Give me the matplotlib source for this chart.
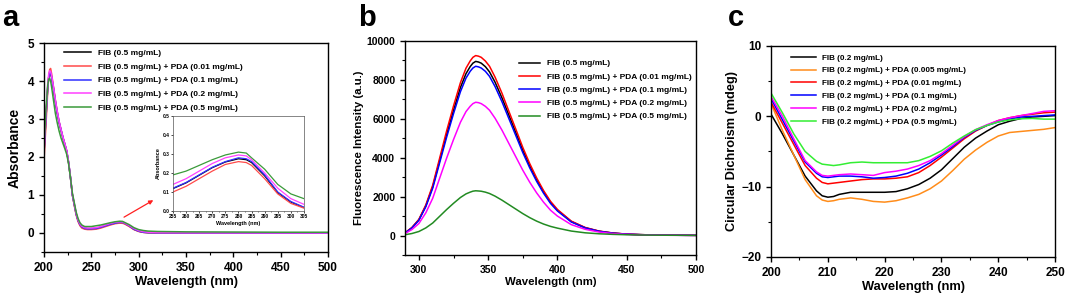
import matplotlib
matplotlib.use("Agg")
import matplotlib.pyplot as plt
from matplotlib.ticker import AutoMinorLocator

plt.rcParams['font.family'] = ['Liberation Sans', 'DejaVu Sans']
plt.rcParams['font.weight'] = 'bold'

# ---- panel a: UV-vis absorbance ----
wl_a = [200, 202, 204, 205, 206, 207, 208, 210, 212, 214, 216, 218, 220, 222, 224, 226, 228, 230,
        232, 234, 236, 238, 240, 243, 246, 250, 255, 260, 265, 270, 275, 280, 283, 285, 290, 295,
        300, 305, 310, 320, 350, 400, 450, 500]
abs_fib = [2.1, 3.0, 3.85, 4.1, 4.22, 4.2, 4.1, 3.8, 3.45, 3.15, 2.9, 2.7, 2.5, 2.33, 2.15, 1.85, 1.45, 1.0,
           0.75, 0.5, 0.33, 0.22, 0.16, 0.12, 0.11, 0.11, 0.118, 0.148, 0.188, 0.228, 0.258, 0.275, 0.27, 0.255, 0.185, 0.097,
           0.047, 0.018, 0.01, 0.005, 0.003, 0.002, 0.002, 0.001]
abs_001 = [1.9, 2.8, 3.75, 4.1, 4.3, 4.33, 4.2, 3.85, 3.5, 3.2, 2.93, 2.72, 2.52, 2.34, 2.15, 1.85, 1.45, 1.0,
           0.72, 0.47, 0.3, 0.19, 0.13, 0.1, 0.09, 0.09, 0.10, 0.13, 0.17, 0.21, 0.245, 0.26, 0.255, 0.24, 0.17, 0.09,
           0.04, 0.015, 0.008, 0.004, 0.003, 0.002, 0.002, 0.001]
abs_01 = [2.1, 3.0, 3.85, 4.1, 4.22, 4.22, 4.12, 3.82, 3.48, 3.18, 2.92, 2.72, 2.52, 2.34, 2.16, 1.86, 1.46, 1.0,
          0.75, 0.5, 0.33, 0.22, 0.16, 0.12, 0.11, 0.11, 0.12, 0.15, 0.19, 0.23, 0.26, 0.28, 0.275, 0.26, 0.19, 0.10,
          0.05, 0.02, 0.01, 0.005, 0.003, 0.002, 0.002, 0.001]
abs_02 = [2.2, 3.1, 3.95, 4.18, 4.27, 4.25, 4.15, 3.85, 3.5, 3.2, 2.93, 2.72, 2.52, 2.35, 2.17, 1.87, 1.47, 1.02,
          0.77, 0.52, 0.35, 0.24, 0.18, 0.14, 0.13, 0.13, 0.14, 0.17, 0.21, 0.25, 0.28, 0.295, 0.29, 0.27, 0.20, 0.12,
          0.065, 0.035, 0.02, 0.01, 0.006, 0.004, 0.003, 0.002]
abs_05 = [2.3, 3.2, 3.9, 4.05, 4.07, 4.0, 3.85, 3.5, 3.15, 2.9, 2.68, 2.5, 2.36, 2.22, 2.07, 1.82, 1.45, 1.05,
          0.8, 0.55, 0.38, 0.27, 0.21, 0.17, 0.17, 0.17, 0.19, 0.21, 0.24, 0.27, 0.295, 0.31, 0.305, 0.28, 0.22, 0.14,
          0.09, 0.065, 0.05, 0.04, 0.03, 0.025, 0.02, 0.02]
labels_a = ["FIB (0.5 mg/mL)", "FIB (0.5 mg/mL) + PDA (0.01 mg/mL)", "FIB (0.5 mg/mL) + PDA (0.1 mg/mL)",
            "FIB (0.5 mg/mL) + PDA (0.2 mg/mL)", "FIB (0.5 mg/mL) + PDA (0.5 mg/mL)"]
colors_a = ["#000000", "#ff4a4a", "#3030ff", "#ff40ff", "#3a9a3a"]

# ---- panel b: fluorescence ----
wl_b = [290, 295, 300, 305, 310, 315, 320, 325, 330, 334, 337, 339, 341, 343, 345, 348, 351, 355,
        360, 365, 370, 375, 380, 385, 390, 395, 400, 410, 420, 430, 440, 450, 460, 470, 480, 500]
fl_fib = [130, 400, 810, 1520, 2510, 3850, 5190, 6440, 7610, 8320, 8680, 8860, 8950, 8920, 8860, 8680,
          8410, 7880, 7070, 6180, 5280, 4390, 3580, 2860, 2240, 1700, 1300, 720, 400, 220, 125, 70, 45,
          27, 18, 9]
fl_001 = [140, 415, 830, 1570, 2590, 3980, 5370, 6660, 7860, 8600, 8970, 9160, 9250, 9220, 9160, 8970,
          8700, 8140, 7310, 6380, 5460, 4530, 3700, 2960, 2310, 1760, 1340, 740, 415, 230, 130, 74, 46,
          28, 19, 9]
fl_01 = [131, 392, 783, 1479, 2436, 3741, 5046, 6264, 7395, 8090, 8440, 8610, 8700, 8670, 8610, 8440,
         8180, 7656, 6873, 6003, 5133, 4263, 3480, 2784, 2175, 1653, 1262, 696, 392, 218, 122, 70, 44,
         26, 17, 9]
fl_02 = [103, 308, 617, 1165, 1918, 2946, 3973, 4932, 5823, 6370, 6640, 6780, 6850, 6830, 6780, 6640,
         6440, 6028, 5412, 4727, 4042, 3357, 2740, 2192, 1713, 1302, 1000, 560, 320, 180, 100, 58, 36,
         22, 14, 7]
fl_05 = [40, 104, 207, 391, 644, 989, 1334, 1656, 1955, 2140, 2230, 2280, 2300, 2290, 2277, 2230,
         2160, 2024, 1817, 1587, 1357, 1127, 920, 740, 590, 470, 380, 230, 140, 90, 60, 40, 28,
         20, 15, 10]
labels_b = labels_a
colors_b = ["#000000", "#ff0000", "#0000ff", "#ff00ff", "#228b22"]

# ---- panel c: circular dichroism ----
wl_c = [200, 202, 204, 206, 208, 209, 210, 211, 212, 214, 216, 218, 220, 222, 224, 226, 228, 230, 232, 234,
        236, 238, 240, 242, 244, 246, 248, 250]
cd_fib = [0.3, -2.5, -5.5, -8.5, -10.6, -11.3, -11.5, -11.4, -11.1, -10.8, -10.8, -10.8, -10.8, -10.7, -10.3, -9.7,
          -8.8, -7.6, -6.0, -4.4, -3.1, -2.1, -1.2, -0.7, -0.3, -0.1, 0.0, 0.1]
cd_0005 = [1.8, -2.0, -5.5, -9.0, -11.3, -11.9, -12.1, -12.0, -11.8, -11.6, -11.8, -12.1, -12.2, -12.0, -11.6, -11.1,
           -10.3, -9.2, -7.7, -6.1, -4.8, -3.7, -2.8, -2.3, -2.15, -2.0, -1.85, -1.6]
cd_001 = [2.0, -1.0, -4.0, -7.0, -8.8, -9.4, -9.6, -9.5, -9.4, -9.2, -9.0, -8.9, -8.9, -8.8, -8.6, -8.0,
          -7.0, -5.8, -4.5, -3.2, -2.1, -1.3, -0.6, -0.2, 0.1, 0.3, 0.5, 0.6]
cd_01 = [2.5, -0.5, -3.5, -6.5, -8.1, -8.6, -8.7, -8.6, -8.5, -8.5, -8.6, -8.8, -8.7, -8.5, -8.1, -7.5,
         -6.6, -5.5, -4.3, -3.0, -2.0, -1.3, -0.8, -0.4, -0.1, 0.0, 0.1, 0.2]
cd_02 = [2.8, 0.0, -3.2, -6.3, -7.9, -8.4, -8.5, -8.4, -8.3, -8.2, -8.3, -8.4, -8.0, -7.8, -7.5, -7.0,
         -6.3, -5.3, -4.1, -2.9, -1.9, -1.2, -0.6, -0.2, 0.1, 0.4, 0.7, 0.8]
cd_05 = [3.3, 0.5, -2.5, -5.0, -6.4, -6.8, -6.9, -7.0, -6.9, -6.6, -6.5, -6.6, -6.6, -6.6, -6.6, -6.3,
         -5.7, -4.9, -3.8, -2.8, -1.9, -1.3, -0.8, -0.5, -0.35, -0.3, -0.4, -0.4]
labels_c = ["FIB (0.2 mg/mL)", "FIB (0.2 mg/mL) + PDA (0.005 mg/mL)", "FIB (0.2 mg/mL) + PDA (0.01 mg/mL)",
            "FIB (0.2 mg/mL) + PDA (0.1 mg/mL)", "FIB (0.2 mg/mL) + PDA (0.2 mg/mL)",
            "FIB (0.2 mg/mL) + PDA (0.5 mg/mL)"]
colors_c = ["#000000", "#ff8c1a", "#ff0000", "#0000ff", "#ff00ff", "#33ee33"]


def style_axes(ax, tick_size=8.5):
    ax.tick_params(axis='both', which='major', direction='out', length=3.5, width=1,
                   labelsize=tick_size, top=False, right=False)
    ax.tick_params(axis='both', which='minor', direction='out', length=2, width=0.8)
    for lab in ax.get_xticklabels() + ax.get_yticklabels():
        lab.set_fontweight('bold')
    for sp in ax.spines.values():
        sp.set_linewidth(1.0)


fig = plt.figure(figsize=(10.65, 2.94), dpi=100)
leg_font = {'size': 6.0, 'weight': 'bold'}

# panel a
ax1 = fig.add_axes([0.0413, 0.1429, 0.2667, 0.7108])
for ys, lab, c in zip([abs_fib, abs_001, abs_01, abs_02, abs_05], labels_a, colors_a):
    ax1.plot(wl_a, ys, color=c, lw=1.1, label=lab)
ax1.set_xlim(200, 500)
ax1.set_ylim(-0.5, 5)
ax1.set_xticks([200, 250, 300, 350, 400, 450, 500])
ax1.set_yticks([0, 1, 2, 3, 4, 5])
ax1.xaxis.set_minor_locator(AutoMinorLocator(2))
ax1.yaxis.set_minor_locator(AutoMinorLocator(2))
ax1.set_xlabel("Wavelength (nm)", fontsize=9.3, fontweight='bold', labelpad=2)
ax1.set_ylabel("Absorbance", fontsize=10, fontweight='bold', labelpad=4)
style_axes(ax1)
ax1.legend(loc='upper left', bbox_to_anchor=(0.05, 1.0), frameon=False,
           prop=leg_font, handlelength=3.2, labelspacing=0.7, borderaxespad=0.35)
ax1.annotate("", xy=(318, 0.9), xytext=(282, 0.38),
             arrowprops=dict(arrowstyle='-|>', color='#ff2020', lw=0.9, mutation_scale=6))

ins = fig.add_axes([0.1624, 0.2823, 0.123, 0.3231])
for ys, c in zip([abs_05, abs_02, abs_fib, abs_01, abs_001],
                 [colors_a[4], colors_a[3], colors_a[0], colors_a[2], colors_a[1]]):
    ins.plot(wl_a, ys, color=c, lw=0.9)
ins.set_xlim(255, 305)
ins.set_ylim(0, 0.5)
ins.set_xticks(list(range(255, 306, 5)))
ins.set_yticks([0.0, 0.1, 0.2, 0.3, 0.4, 0.5])
ins.xaxis.set_minor_locator(AutoMinorLocator(2))
ins.tick_params(axis='both', which='major', direction='out', length=1.5, width=0.5, labelsize=3.5, pad=1)
ins.tick_params(axis='both', which='minor', direction='out', length=1, width=0.4)
for sp in ins.spines.values():
    sp.set_linewidth(0.5)
    sp.set_color('#555555')
ins.set_xlabel("Wavelength (nm)", fontsize=4, fontweight='bold', labelpad=1)
ins.set_ylabel("Absorbance", fontsize=4, fontweight='bold', labelpad=1)

# panel b
ax2 = fig.add_axes([0.3803, 0.1327, 0.2732, 0.7279])
for ys, lab, c in zip([fl_fib, fl_001, fl_01, fl_02, fl_05], labels_b, colors_b):
    ax2.plot(wl_b, ys, color=c, lw=1.1, label=lab)
ax2.set_xlim(290, 500)
ax2.set_ylim(-1000, 10000)
ax2.set_xticks([300, 350, 400, 450, 500])
ax2.set_yticks([0, 2000, 4000, 6000, 8000, 10000])
ax2.xaxis.set_minor_locator(AutoMinorLocator(2))
ax2.yaxis.set_minor_locator(AutoMinorLocator(2))
ax2.set_xlabel("Wavelength (nm)", fontsize=8.2, fontweight='bold', labelpad=2)
ax2.set_ylabel("Fluorescence Intensity (a.u.)", fontsize=8.2, fontweight='bold', labelpad=2)
style_axes(ax2, 7.5)
ax2.legend(loc='upper left', bbox_to_anchor=(0.37, 0.94), frameon=False,
           prop=leg_font, handlelength=2.6, labelspacing=0.65, borderaxespad=0.3)

# panel c
ax3 = fig.add_axes([0.724, 0.1259, 0.2667, 0.7177])
for ys, lab, c in zip([cd_fib, cd_0005, cd_001, cd_01, cd_02, cd_05], labels_c, colors_c):
    ax3.plot(wl_c, ys, color=c, lw=1.1, label=lab)
ax3.set_xlim(200, 250)
ax3.set_ylim(-20, 10)
ax3.set_xticks([200, 210, 220, 230, 240, 250])
ax3.set_yticks([-20, -10, 0, 10])
ax3.xaxis.set_minor_locator(AutoMinorLocator(2))
ax3.yaxis.set_minor_locator(AutoMinorLocator(2))
ax3.set_xlabel("Wavelength (nm)", fontsize=9.3, fontweight='bold', labelpad=2)
ax3.set_ylabel("Circular Dichroism (mdeg)", fontsize=9.2, fontweight='bold', labelpad=2)
style_axes(ax3, 8.5)
ax3.legend(loc='upper left', bbox_to_anchor=(0.05, 0.99), frameon=False,
           prop={'size': 5.9, 'weight': 'bold'}, handlelength=3.0, labelspacing=0.62,
           borderaxespad=0.3)

for x, t in [(0.002, 'a'), (0.336, 'b'), (0.683, 'c')]:
    fig.text(x, 0.985, t, fontsize=21, fontweight='bold', va='top', ha='left')

fig.savefig("out.png", dpi=100)
